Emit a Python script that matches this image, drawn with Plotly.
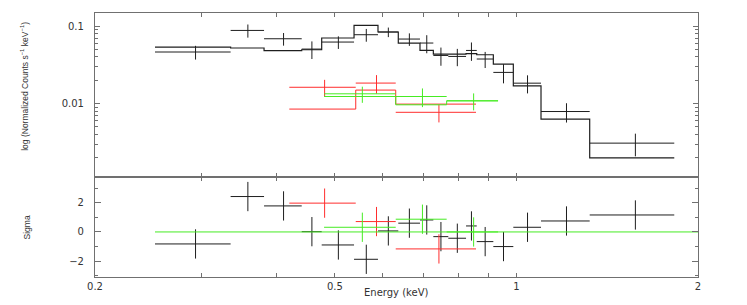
import numpy as np
import plotly.graph_objects as go

# ---------------- data ----------------
# dataset 1 (black)
blk_lo = [0.2515, 0.3357, 0.3814, 0.4404, 0.4753, 0.5378, 0.5893, 0.6368, 0.6918,
          0.7280, 0.7708, 0.8248, 0.8592, 0.9154, 0.9880, 1.0982, 1.3226]
blk_hi = [0.3357, 0.3814, 0.4404, 0.4753, 0.5378, 0.5893, 0.6368, 0.6918, 0.7280,
          0.7708, 0.8248, 0.8592, 0.9154, 0.9880, 1.0982, 1.3226, 1.8268]
blk_val = [0.0462, 0.0877, 0.0685, 0.0504, 0.0621, 0.0772, 0.0837, 0.0679, 0.0603,
           0.0417, 0.0405, 0.0484, 0.0375, 0.0252, 0.0183, 0.00788, 0.00308]
blk_err = [0.0093, 0.0169, 0.0127, 0.0129, 0.0115, 0.0145, 0.0118, 0.0125, 0.0158,
           0.0110, 0.0102, 0.0129, 0.0088, 0.0070, 0.0048, 0.0022, 0.0010]
blk_model = [0.0535, 0.0520, 0.0480, 0.0494, 0.0700, 0.1018, 0.0837, 0.0603, 0.0484,
             0.0435, 0.0435, 0.0439, 0.0426, 0.0323, 0.0169, 0.00629, 0.00199]
blk_resid = [-0.82, 2.42, 1.78, 0.02, -0.89, -1.87, 0.07, 0.60, 0.82,
             -0.32, -0.43, 0.41, -0.66, -1.00, 0.32, 0.75, 1.16]

# dataset 2 (red)
red_lo = [0.4200, 0.5413, 0.6306]
red_hi = [0.5413, 0.6306, 0.8568]
red_val = [0.0162, 0.01834, 0.00770]
red_err = [0.0040, 0.0049, 0.0020]
red_model = [0.00847, 0.01490, 0.00982]
red_resid = [1.97, 0.71, -1.16]

# dataset 3 (green)
grn_lo = [0.4796, 0.6306, 0.7660]
grn_hi = [0.6306, 0.7660, 0.9321]
grn_val = [0.01334, 0.01231, 0.01083]
grn_err = [0.00314, 0.00333, 0.00267]
grn_model = [0.01231, 0.00962, 0.01083]
grn_resid = [0.32, 0.87, 0.0]

x_tickvals = [0.2, 0.3, 0.4, 0.5, 0.6, 0.7, 0.8, 0.9, 1, 2]
x_ticktext = ["0.2", "", "", "0.5", "", "", "", "", "1", "2"]
y1_tickvals = [0.01, 0.1]
y1_ticktext = ["0.01", "0.1"]
y1_minor = [0.002, 0.003, 0.004, 0.005, 0.006, 0.007, 0.008, 0.009,
            0.02, 0.03, 0.04, 0.05, 0.06, 0.07, 0.08, 0.09]
y2_tickvals = [-2, 0, 2]
y2_ticktext = ["\u22122", "0", "2"]
y2_minor = [-3, -1, 1, 3]

BLACK = "#1e1e1e"
RED = "rgb(255,45,45)"
GREEN = "rgb(70,235,35)"

W, H = 747, 305
OFF = 8  # page body margin offset
L_PX, R_PX, T_PX, B_PX = 95 - OFF, 698 - OFF, 13.3 - OFF, 277 - OFF
PW, PH = R_PX - L_PX, B_PX - T_PX
SPLIT = 177.5 - OFF
split_frac = (B_PX - SPLIT) / PH


def px(xp, yp):
    return (xp - OFF - L_PX) / PW, (B_PX - (yp - OFF)) / PH


fig = go.Figure()


def add_set(lo, hi, val, err, model, resid, color, lw=1):
    lo = np.array(lo); hi = np.array(hi)
    cen = (lo + hi) / 2
    fig.add_trace(go.Scatter(
        x=cen, y=val, mode="markers", marker=dict(size=0.1, color=color),
        error_x=dict(type="data", symmetric=False, array=hi - cen, arrayminus=cen - lo,
                     width=0, thickness=1, color=color),
        error_y=dict(type="data", array=err, width=0, thickness=1, color=color),
        xaxis="x", yaxis="y", showlegend=False, hoverinfo="skip"))
    xs = list(lo) + [hi[-1]]
    ys = list(model) + [model[-1]]
    fig.add_trace(go.Scatter(
        x=xs, y=ys, mode="lines", line=dict(color=color, width=lw, shape="hv"),
        xaxis="x", yaxis="y", showlegend=False, hoverinfo="skip"))
    fig.add_trace(go.Scatter(
        x=cen, y=resid, mode="markers", marker=dict(size=0.1, color=color),
        error_x=dict(type="data", symmetric=False, array=hi - cen, arrayminus=cen - lo,
                     width=0, thickness=1, color=color),
        error_y=dict(type="data", array=[1] * len(resid), width=0, thickness=1, color=color),
        xaxis="x2", yaxis="y2", showlegend=False, hoverinfo="skip"))


add_set(blk_lo, blk_hi, blk_val, blk_err, blk_model, blk_resid, BLACK, lw=1.2)
add_set(red_lo, red_hi, red_val, red_err, red_model, red_resid, RED)
add_set(grn_lo, grn_hi, grn_val, grn_err, grn_model, grn_resid, GREEN)

fig.add_trace(go.Scatter(x=[blk_lo[0], 2.0], y=[0, 0], mode="lines",
                         line=dict(color=GREEN, width=1), xaxis="x2", yaxis="y2",
                         showlegend=False, hoverinfo="skip"))

AX = "#707070"
TXT = "#333333"
tickfont = dict(family="DejaVu Sans", size=10, color=TXT)

common_x = dict(type="log", range=[np.log10(0.2), np.log10(2)], domain=[0, 1],
                tickmode="array", tickvals=x_tickvals, ticks="inside", ticklen=4,
                tickcolor=AX, tickwidth=1, showline=True, linecolor=AX, linewidth=1.2,
                mirror="ticks", showgrid=False, zeroline=False, tickfont=tickfont,
                automargin=False)

ax1 = px(25, 87)
ax2 = px(27, 227.5)
ax3 = px(396, 292.7)

fig.update_layout(
    width=W, height=H,
    margin=dict(l=L_PX, r=W - R_PX, t=T_PX, b=H - B_PX, autoexpand=False),
    paper_bgcolor="white", plot_bgcolor="white",
    xaxis=dict(common_x, anchor="y", ticktext=[""] * len(x_tickvals), showticklabels=False),
    xaxis2=dict(common_x, anchor="y2", ticktext=x_ticktext, matches="x"),
    yaxis=dict(type="log", range=[-2.9535, -0.832], domain=[split_frac, 1], anchor="x",
               tickmode="array", tickvals=y1_tickvals, ticktext=y1_ticktext,
               ticks="inside", ticklen=5, tickcolor=AX, showline=True, linecolor=AX,
               linewidth=1.2, mirror="ticks", showgrid=False, zeroline=False,
               tickfont=tickfont, ticklabelstandoff=8, automargin=False,
               minor=dict(tickmode="array", tickvals=y1_minor, ticks="inside",
                          ticklen=2.5, tickcolor=AX, showgrid=False)),
    yaxis2=dict(range=[-3.08, 3.73], domain=[0, split_frac], anchor="x2",
                tickmode="array", tickvals=y2_tickvals, ticktext=y2_ticktext,
                ticks="inside", ticklen=6, tickcolor=AX, showline=True, linecolor=AX,
                linewidth=1.2, mirror="ticks", showgrid=False, zeroline=False,
                tickfont=tickfont, ticklabelstandoff=8, automargin=False,
                minor=dict(tickmode="array", tickvals=y2_minor, ticks="inside",
                           ticklen=3, tickcolor=AX, showgrid=False)),
    annotations=[
        dict(text="log (Normalized Counts s<sup>\u22121</sup> keV<sup>\u22121</sup>)",
             x=ax1[0], y=ax1[1], xref="paper", yref="paper", textangle=-90,
             showarrow=False, font=dict(family="Liberation Sans", size=8.5, color=TXT),
             xanchor="center", yanchor="middle"),
        dict(text="Sigma", x=ax2[0], y=ax2[1], xref="paper", yref="paper",
             textangle=-90, showarrow=False,
             font=dict(family="Liberation Sans", size=8.5, color=TXT),
             xanchor="center", yanchor="middle"),
        dict(text="Energy (keV)", x=ax3[0], y=ax3[1], xref="paper", yref="paper",
             showarrow=False, font=dict(family="DejaVu Sans", size=10, color=TXT),
             xanchor="center", yanchor="middle"),
    ],
)

fig.write_html("out.html")
